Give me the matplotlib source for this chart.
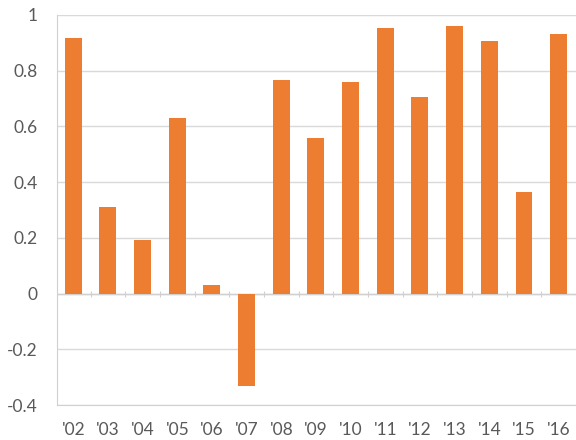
import matplotlib
matplotlib.use("Agg")
import matplotlib.pyplot as plt
import numpy as np

years = ["'02", "'03", "'04", "'05", "'06", "'07", "'08", "'09", "'10", "'11", "'12", "'13", "'14", "'15", "'16"]
values = [0.918, 0.312, 0.194, 0.632, 0.029, -0.33, 0.767, 0.559, 0.760, 0.954, 0.707, 0.959, 0.907, 0.366, 0.932]
yticks = [-0.4, -0.2, 0, 0.2, 0.4, 0.6, 0.8, 1]
ytick_labels = ["-0.4", "-0.2", "0", "0.2", "0.4", "0.6", "0.8", "1"]

plt.rcParams['font.family'] = ['Lato', 'DejaVu Sans']

fig = plt.figure(figsize=(5.76, 4.40), dpi=100)
ax = fig.add_axes([57/576, 35/440, 519/576, 390/440])

x = np.arange(len(years))
ax.bar(x, values, width=0.49, color='#ED7D31', zorder=3)

ax.set_xlim(-0.47, len(years) - 0.5)
ax.set_ylim(-0.4, 1.0)
ax.set_yticks(yticks)
ax.set_yticklabels(ytick_labels)
ax.set_xticks(x)
ax.set_xticklabels(years)

ax.grid(axis='y', color='#D9D9D9', linewidth=1, zorder=0)
ax.set_axisbelow(True)
for s in ['top', 'right']:
    ax.spines[s].set_visible(False)
ax.spines['left'].set_color('#D0D0D0')
ax.spines['bottom'].set_color('#D0D0D0')
ax.tick_params(axis='both', length=0, labelsize=12.5, colors='#595959')
ax.tick_params(axis='y', pad=14)
ax.tick_params(axis='x', pad=12)

# zero axis with category boundary ticks
ax.axhline(0, color='#D0D0D0', linewidth=1, zorder=2)
sec = ax.secondary_xaxis(0.4 / 1.4)
sec.set_xticks(np.arange(len(years) + 1) - 0.5)
sec.set_xticklabels([])
sec.tick_params(length=5, direction='inout', color='#D0D0D0')
sec.spines['bottom'].set_visible(False)

fig.savefig("out.png", dpi=100)
